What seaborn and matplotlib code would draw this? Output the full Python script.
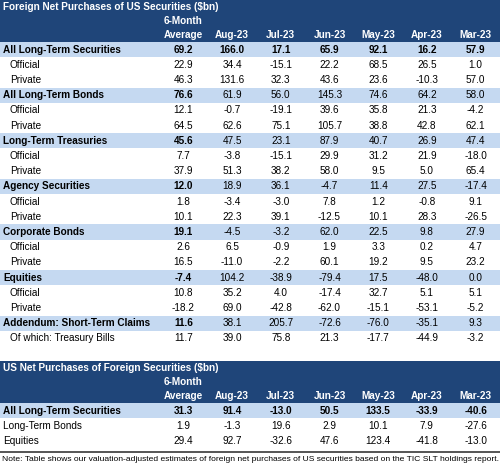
import numpy as np
import pandas as pd
import seaborn as sns
from matplotlib import pyplot as plt
from matplotlib.colors import ListedColormap

sns.set_theme(style="white")
plt.rcParams['font.family'] = ['Liberation Sans', 'DejaVu Sans']

# ---- data ----
months = ['Aug-23', 'Jul-23', 'Jun-23', 'May-23', 'Apr-23', 'Mar-23']

rows1 = ['All Long-Term Securities', 'Official', 'Private',
         'All Long-Term Bonds', 'Official', 'Private',
         'Long-Term Treasuries', 'Official', 'Private',
         'Agency Securities', 'Official', 'Private',
         'Corporate Bonds', 'Official', 'Private',
         'Equities', 'Official', 'Private',
         'Addendum: Short-Term Claims', 'Of which: Treasury Bills']
main1 = [0, 3, 6, 9, 12, 15, 18]

avg1 = [69.2, 22.9, 46.3, 76.6, 12.1, 64.5, 45.6, 7.7, 37.9, 12.0, 1.8, 10.1, 19.1, 2.6, 16.5, -7.4, 10.8, -18.2, 11.6, 11.7]
aug1 = [166.0, 34.4, 131.6, 61.9, -0.7, 62.6, 47.5, -3.8, 51.3, 18.9, -3.4, 22.3, -4.5, 6.5, -11.0, 104.2, 35.2, 69.0, 38.1, 39.0]
jul1 = [17.1, -15.1, 32.3, 56.0, -19.1, 75.1, 23.1, -15.1, 38.2, 36.1, -3.0, 39.1, -3.2, -0.9, -2.2, -38.9, 4.0, -42.8, 205.7, 75.8]
jun1 = [65.9, 22.2, 43.6, 145.3, 39.6, 105.7, 87.9, 29.9, 58.0, -4.7, 7.8, -12.5, 62.0, 1.9, 60.1, -79.4, -17.4, -62.0, -72.6, 21.3]
may1 = [92.1, 68.5, 23.6, 74.6, 35.8, 38.8, 40.7, 31.2, 9.5, 11.4, 1.2, 10.1, 22.5, 3.3, 19.2, 17.5, 32.7, -15.1, -76.0, -17.7]
apr1 = [16.2, 26.5, -10.3, 64.2, 21.3, 42.8, 26.9, 21.9, 5.0, 27.5, -0.8, 28.3, 9.8, 0.2, 9.5, -48.0, 5.1, -53.1, -35.1, -44.9]
mar1 = [57.9, 1.0, 57.0, 58.0, -4.2, 62.1, 47.4, -18.0, 65.4, -17.4, 9.1, -26.5, 27.9, 4.7, 23.2, 0.0, 5.1, -5.2, 9.3, -3.2]

rows2 = ['All Long-Term Securities', 'Long-Term Bonds', 'Equities']
main2 = [0]
avg2 = [31.3, 1.9, 29.4]
aug2 = [91.4, -1.3, 92.7]
jul2 = [-13.0, 19.6, -32.6]
jun2 = [50.5, 2.9, 47.6]
may2 = [133.5, 10.1, 123.4]
apr2 = [-33.9, 7.9, -41.8]
mar2 = [-40.6, -27.6, -13.0]

title1 = 'Foreign Net Purchases of US Securities ($bn)'
title2 = 'US Net Purchases of Foreign Securities ($bn)'
note = ('Note: Table shows our valuation-adjusted estimates of foreign net purchases '
        'of US securities based on the TIC SLT holdings report.')

cols = ['6-Month Average'] + months
df1 = pd.DataFrame(dict(zip(cols, [avg1, aug1, jul1, jun1, may1, apr1, mar1])), index=rows1)
df2 = pd.DataFrame(dict(zip(cols, [avg2, aug2, jul2, jun2, may2, apr2, mar2])), index=rows2)

navy = '#1F4579'
band = '#C5D9F1'
W, H = 500, 465
ROW = 15.2
XNUM = 159  # left edge of the number columns
CW = (W - XNUM) / 7

fig = plt.figure(figsize=(W / 100, H / 100), dpi=100)
bg = fig.add_axes([0, 0, 1, 1])
bg.set_xlim(0, W)
bg.set_ylim(H, 0)
bg.axis('off')
fs = 7.2


def draw_table(df, main, top_header, title, indent):
    # header block
    bg.add_patch(plt.Rectangle((0, top_header), W, 42, color=navy, lw=0))
    bg.text(3, top_header + 7, title, color='white', fontweight='bold', fontsize=fs, va='center')
    bg.text(XNUM + CW * 0.5, top_header + 21, '6-Month', color='white', fontweight='bold',
            fontsize=fs, ha='center', va='center')
    hdr = ['Average'] + months
    for i, h in enumerate(hdr):
        bg.text(XNUM + CW * (i + 0.5), top_header + 35, h, color='white', fontweight='bold',
                fontsize=fs, ha='center', va='center')
    top = top_header + 42
    n = len(df)
    for r, lab in enumerate(df.index):
        y = top + ROW * r
        bold = r in main
        if bold:
            bg.add_patch(plt.Rectangle((0, y), W, ROW, color=band, lw=0))
        x = 10 if (indent and not bold) else 3
        bg.text(x, y + ROW / 2, lab, fontsize=fs, va='center',
                fontweight='bold' if bold else 'normal', color='black')
    # numbers via seaborn heatmap
    shade = np.zeros(df.shape)
    shade[main, :] = 1
    ax = fig.add_axes([XNUM / W, 1 - (top + ROW * n) / H, (W - XNUM) / W, ROW * n / H])
    annot = df.map(lambda v: f'{v:.1f}').values
    sns.heatmap(shade, ax=ax, cmap=ListedColormap(['white', band]), vmin=0, vmax=1,
                cbar=False, annot=annot, fmt='', linewidths=0,
                annot_kws={'color': 'black', 'fontsize': fs}, xticklabels=False, yticklabels=False)
    ax.axis('off')
    # first row fully bold, other section rows bold only in the average column
    for t in ax.texts:
        cx, cy = t.get_position()
        r, c = int(cy), int(cx)
        if r == 0 or (r in main and c == 0):
            t.set_fontweight('bold')


draw_table(df1, main1, 0, title1, True)
draw_table(df2, main2, 361, title2, False)

bg.plot([0, W], [451.5, 451.5], color='#555555', lw=1.4)
bg.text(2, 459.5, note, fontsize=6.1, va='center', color='black')

fig.savefig('out.png', dpi=100)
